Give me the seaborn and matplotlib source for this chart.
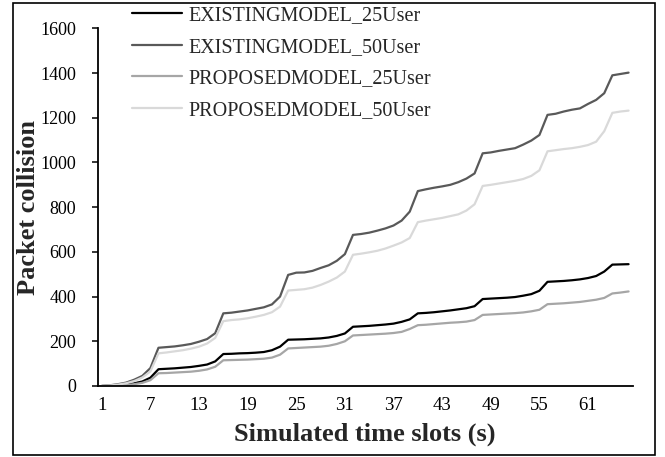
import matplotlib
matplotlib.use("Agg")
import matplotlib.pyplot as plt
from matplotlib.patches import Rectangle
import seaborn as sns
import pandas as pd
import numpy as np

slots = list(range(1, 67))

existing_25 = [0, 1, 3, 6, 12, 20, 37, 75, 77, 79, 82, 85, 90, 96, 110, 143,
               144, 146, 147, 149, 152, 160, 176, 207, 208, 209, 211, 213, 217, 224, 235, 265,
               267, 269, 272, 275, 279, 287, 298, 325, 327, 330, 334, 338, 343, 348, 357, 389,
               391, 393, 395, 398, 404, 411, 426, 466, 468, 470, 473, 477, 483, 492, 512, 543,
               544, 545]
existing_50 = [0, 3, 8, 15, 28, 45, 80, 171, 174, 177, 182, 188, 198, 210, 236, 325,
               328, 333, 338, 345, 352, 365, 400, 497, 507, 508, 515, 528, 540, 560, 590, 676,
               680, 686, 695, 705, 718, 740, 780, 872, 880, 887, 893, 900, 912, 928, 951, 1041,
               1045, 1052, 1058, 1064, 1080, 1098, 1123, 1213, 1218, 1228, 1236, 1242, 1262, 1280, 1310, 1390,
               1396, 1402]
proposed_25 = [0, 1, 2, 4, 8, 14, 26, 57, 58, 60, 62, 64, 68, 74, 86, 115,
               116, 117, 118, 120, 122, 127, 140, 168, 170, 172, 174, 176, 180, 188, 200, 226,
               228, 230, 232, 234, 237, 242, 255, 272, 274, 277, 280, 283, 285, 288, 295, 318,
               320, 322, 324, 326, 329, 334, 341, 366, 368, 370, 373, 376, 381, 386, 394, 414,
               418, 423]
proposed_50 = [0, 2, 6, 12, 22, 38, 65, 146, 150, 155, 160, 167, 176, 190, 215, 290,
               295, 298, 303, 310, 318, 330, 355, 427, 430, 433, 440, 452, 467, 485, 512, 587,
               592, 598, 605, 615, 628, 642, 662, 733, 740, 746, 752, 760, 768, 785, 813, 895,
               900, 906, 912, 918, 926, 940, 965, 1050, 1055, 1060, 1064, 1070, 1078, 1093, 1140, 1222,
               1228, 1232]

series_names = ["EXISTINGMODEL_25User", "EXISTINGMODEL_50User",
                "PROPOSEDMODEL_25User", "PROPOSEDMODEL_50User"]
series_values = [existing_25, existing_50, proposed_25, proposed_50]
colors = ["#000000", "#595959", "#a6a6a6", "#d9d9d9"]
xtick_labels = [1, 7, 13, 19, 25, 31, 37, 43, 49, 55, 61]
ytick_values = [0, 200, 400, 600, 800, 1000, 1200, 1400, 1600]

rows = []
for name, vals in zip(series_names, series_values):
    for s, v in zip(slots, vals):
        rows.append({"slot": s, "value": v, "series": name})
df = pd.DataFrame(rows)

sns.set_style("white")
plt.rcParams["font.family"] = ["Liberation Serif", "DejaVu Serif"]

fig = plt.figure(figsize=(6.65, 4.57), dpi=100)
ax = fig.add_axes([0.1469, 0.1554, 0.8044, 0.7825])

sns.lineplot(data=df, x="slot", y="value", hue="series", hue_order=series_names,
             palette=colors, linewidth=1.6, ax=ax, legend=True)

ax.set_xlim(0.5, 66.5)
ax.set_ylim(0, 1600)
ax.set_xticks(xtick_labels)
ax.set_xticklabels([str(t) for t in xtick_labels])
ax.set_yticks(ytick_values)
ax.set_yticklabels([str(t) for t in ytick_values])

for side in ["top", "right"]:
    ax.spines[side].set_visible(False)
for side in ["left", "bottom"]:
    ax.spines[side].set_color("black")
    ax.spines[side].set_linewidth(1.3)

ax.tick_params(axis="x", length=0, pad=8, labelsize=13.5, colors="black")
ax.tick_params(axis="y", direction="out", length=4.5, width=1.1, pad=11,
               labelsize=13, colors="black", left=True)

ax.set_xlabel("Simulated time slots (s)", fontsize=19, fontweight="bold")
ax.xaxis.set_label_coords(0.5, -0.134)
ax.xaxis.label.set_va("center")
ax.set_ylabel("Packet collision", fontsize=19, fontweight="bold")
ax.yaxis.set_label_coords(-0.13, 0.5)
ax.yaxis.label.set_va("center")

handles, labels = ax.get_legend_handles_labels()
leg = ax.legend(handles, labels, loc="upper left",
                bbox_to_anchor=(131.7 / 665, 1 - 6 / 457),
                bbox_transform=fig.transFigure, frameon=False,
                fontsize=14.5, handlelength=2.5, handletextpad=0.3,
                labelspacing=0.62, borderpad=0, borderaxespad=0)
for line in leg.get_lines():
    line.set_linewidth(1.6)

fig.patches.append(Rectangle((13 / 665, 2 / 457), (655 - 13) / 665, (454 - 2) / 457,
                             transform=fig.transFigure, fill=False,
                             edgecolor="black", linewidth=1.2))

fig.savefig("out.png", dpi=100)
